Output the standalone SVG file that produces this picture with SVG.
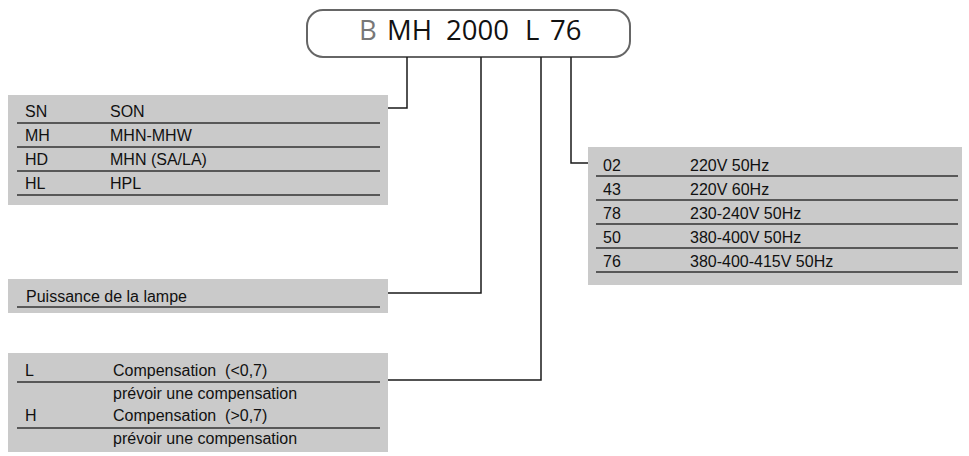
<svg xmlns="http://www.w3.org/2000/svg" width="969" height="456" viewBox="0 0 969 456">
<style>
.bg{fill:#cacaca}
.rl{stroke:#333;stroke-width:1.4;fill:none}
.t{font-family:"Liberation Sans",Arial,sans-serif;font-size:16px;fill:#111;white-space:pre}
.h{font-family:"Open Sans","DejaVu Sans",sans-serif;font-size:27.5px;fill:#111}
.c{stroke:#1a1a1a;stroke-width:1.5;fill:none}
</style>
<rect width="969" height="456" fill="#fff"/>
<g id="code">
<rect x="307" y="10" width="323" height="47" rx="16" ry="16" fill="none" stroke="#666" stroke-width="2"/>
<text class="h" y="40"><tspan x="359" fill="#777">B</tspan><tspan x="387">MH</tspan><tspan x="446">2000</tspan><tspan x="525">L</tspan><tspan x="550">76</tspan></text>
</g>
<g id="connectors">
<polyline class="c" points="407,57 407,108 388,108"/>
<polyline class="c" points="481,57 481,293 388,293"/>
<polyline class="c" points="541,57 541,380 388,380"/>
<polyline class="c" points="571,57 571,163 588,163"/>
</g>
<g id="lamp-type">
<rect class="bg" x="8" y="95" width="380" height="110"/>
<path class="rl" d="M17 123H380M17 147H380M17 171H380M17 195H380"/>
<text class="t" x="25" y="117">SN</text><text class="t" x="110" y="117">SON</text>
<text class="t" x="25" y="141">MH</text><text class="t" x="110" y="141">MHN-MHW</text>
<text class="t" x="25" y="165">HD</text><text class="t" x="110" y="165">MHN (SA/LA)</text>
<text class="t" x="25" y="189">HL</text><text class="t" x="110" y="189">HPL</text>
</g>
<g id="power">
<rect class="bg" x="8" y="279" width="380" height="34"/>
<path class="rl" d="M17 307H380"/>
<text class="t" x="26" y="302">Puissance de la lampe</text>
</g>
<g id="compensation">
<rect class="bg" x="8" y="353" width="380" height="99"/>
<path class="rl" d="M17 382H380M17 428H380"/>
<text class="t" x="25" y="376">L</text><text class="t" x="113" y="376">Compensation  (&lt;0,7)</text>
<text class="t" x="113" y="399">prévoir une compensation</text>
<text class="t" x="25" y="421">H</text><text class="t" x="113" y="421">Compensation  (&gt;0,7)</text>
<text class="t" x="113" y="444">prévoir une compensation</text>
</g>
<g id="voltage">
<rect class="bg" x="588" y="147" width="374" height="138"/>
<path class="rl" d="M596 176H958M596 200H958M596 224H958M596 248H958M596 272H958"/>
<text class="t" x="603" y="171">02</text><text class="t" x="690" y="171">220V 50Hz</text>
<text class="t" x="603" y="195">43</text><text class="t" x="690" y="195">220V 60Hz</text>
<text class="t" x="603" y="219">78</text><text class="t" x="690" y="219">230-240V 50Hz</text>
<text class="t" x="603" y="243">50</text><text class="t" x="690" y="243">380-400V 50Hz</text>
<text class="t" x="603" y="267">76</text><text class="t" x="690" y="267">380-400-415V 50Hz</text>
</g>
</svg>
